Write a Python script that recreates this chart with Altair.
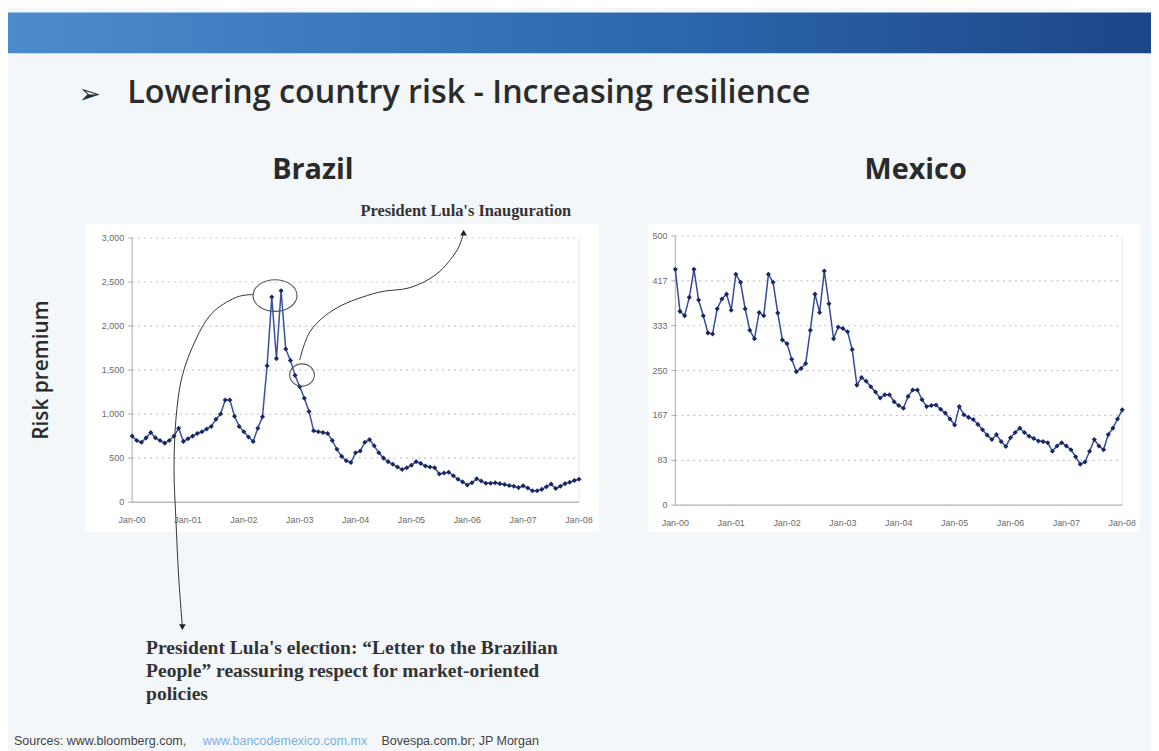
import altair as alt
import pandas as pd

# ---------------- data ----------------
month_labels = ["Jan-00", "Jan-01", "Jan-02", "Jan-03", "Jan-04",
                "Jan-05", "Jan-06", "Jan-07", "Jan-08"]
label_month_index = [0, 12, 24, 36, 48, 60, 72, 84, 96]

# monthly country-risk spreads (bp), Jan-2000 .. Jan-2008
brazil_spread = [
    750, 700, 680, 730, 790, 730, 700, 670, 700, 750, 840, 690,
    720, 750, 780, 800, 830, 860, 940, 1000, 1160, 1160, 975, 860,
    800, 740, 690, 840, 970, 1550, 2330, 1630, 2400, 1740, 1610, 1440,
    1310, 1180, 1030, 810, 800, 790, 780, 700, 600, 520, 470, 450,
    560, 580, 680, 710, 640, 560, 500, 460, 430, 400, 370, 390,
    420, 460, 440, 410, 400, 390, 320, 330, 340, 300, 260, 230,
    195, 220, 265, 240, 215, 215, 220, 210, 200, 190, 180, 165,
    185, 160, 130, 130, 145, 175, 205, 155, 180, 210, 225, 245, 260,
]
mexico_spread = [
    438, 360, 352, 386, 438, 381, 352, 320, 318, 365, 383, 392,
    362, 429, 414, 365, 325, 309, 358, 352, 429, 414, 357, 307,
    300, 271, 248, 254, 263, 325, 392, 358, 435, 374, 309, 331,
    328, 322, 289, 223, 237, 230, 220, 210, 199, 205, 205, 192,
    185, 180, 202, 214, 214, 196, 183, 185, 186, 178, 171, 160,
    149, 183, 168, 163, 159, 150, 140, 130, 122, 131, 118, 109,
    125, 135, 143, 135, 128, 124, 119, 118, 116, 100, 110, 116,
    110, 103, 90, 76, 80, 100, 122, 110, 103, 131, 143, 160, 177,
]
brazil_ticks = [0, 500, 1000, 1500, 2000, 2500, 3000]
mexico_tick_values = [0, 83.3, 166.7, 250, 333.3, 416.7, 500]
mexico_tick_labels = ["0", "83", "167", "250", "333", "417", "500"]

# annotation anchors in data units (month index, spread)
peak_ellipse = {"m": [30.7], "v": [2346]}
inaug_circle = {"m": [36.5], "v": [1444]}
inaug_curve_m = [36.0, 38.4, 44.1, 52.7, 59.7, 65.5, 69.7, 71.2]
inaug_curve_v = [1613, 1951, 2210, 2380, 2436, 2594, 2853, 3060]
elect_curve_m = [26.0, 22.2, 17.1, 13.6, 10.7, 9.4, 9.0, 9.4, 10.0, 10.8]
elect_curve_v = [2357, 2323, 2143, 1838, 1421, 936, 372, -192, -850, -1420]

# ---------------- layout ----------------
W, H = 1151, 743
BR_X, BR_Y = [125, 575], [495, 229]
MX_X, MX_Y = [672, 1122], [498, 227]

months = list(range(len(brazil_spread)))
br_df = pd.DataFrame({"m": months, "v": brazil_spread})
mx_df = pd.DataFrame({"m": months, "v": mexico_spread})

def one():
    return alt.Chart(pd.DataFrame({"a": [0]}))

def panel(df, xr, yr, ydom, tick_vals, tick_labels, line_color):
    xs = alt.Scale(domain=[0, 96], range=xr, nice=False, zero=False)
    ys = alt.Scale(domain=ydom, range=yr, nice=False, zero=False)
    X = lambda f="m": alt.X(f"{f}:Q", scale=xs, axis=None)
    Y = lambda f="v": alt.Y(f"{f}:Q", scale=ys, axis=None)
    tdf = pd.DataFrame({"v": tick_vals, "lab": tick_labels})
    grid = alt.Chart(tdf[tdf.v > 0]).mark_rule(
        color="#c4c4c4", strokeDash=[2, 4], strokeWidth=1.2
    ).encode(y=Y(), x=alt.value(xr[0]), x2=alt.value(xr[1]))
    ylab = alt.Chart(tdf).mark_text(
        align="right", baseline="middle", fontSize=9, color="#6a6a6a",
        font="Liberation Sans"
    ).encode(y=Y(), x=alt.value(xr[0] - 8), text="lab:N")
    yticks = alt.Chart(tdf).mark_rule(color="#aaa").encode(
        y=Y(), x=alt.value(xr[0] - 4), x2=alt.value(xr[0]))
    adf = pd.DataFrame({"a": [ydom[0]], "b": [ydom[1]]})
    yaxis = alt.Chart(adf).mark_rule(color="#aaa").encode(
        y=Y("a"), y2=alt.Y2("b"), x=alt.value(xr[0]))
    rborder = alt.Chart(adf).mark_rule(color="#e4e4e4").encode(
        y=Y("a"), y2=alt.Y2("b"), x=alt.value(xr[1]))
    xaxis = alt.Chart(pd.DataFrame({"v": [0]})).mark_rule(color="#999").encode(
        y=Y(), x=alt.value(xr[0]), x2=alt.value(xr[1]))
    xl = pd.DataFrame({"m": label_month_index, "lab": month_labels})
    xlab = alt.Chart(xl).mark_text(
        baseline="top", fontSize=9, color="#6a6a6a", font="Liberation Sans"
    ).encode(x=X(), y=alt.value(yr[0] + 14), text="lab:N")
    line = alt.Chart(df).mark_line(color=line_color, strokeWidth=1.5).encode(x=X(), y=Y())
    pts = alt.Chart(df).mark_point(
        shape="diamond", filled=True, size=26, color="#1a2862", opacity=1
    ).encode(x=X(), y=Y())
    return [grid, yaxis, rborder, xaxis, yticks, ylab, xlab, line, pts], X, Y

br_layers, BX, BY = panel(br_df, BR_X, BR_Y, [0, 3000], brazil_ticks,
                          [f"{t:,}" for t in brazil_ticks], "#3a50a4")
mx_layers, MXX, MXY = panel(mx_df, MX_X, MX_Y, [0, 500], mexico_tick_values,
                            mexico_tick_labels, "#34499c")

# annotations on Brazil panel
ellipse_path = "M-1,0 A1,0.72 0 1,0 1,0 A1,0.72 0 1,0 -1,0 Z"
circle_path = "M-1,0 A1,0.9 0 1,0 1,0 A1,0.9 0 1,0 -1,0 Z"
ell1 = alt.Chart(pd.DataFrame(peak_ellipse)).mark_point(
    shape=ellipse_path, size=1960, filled=False, color="#555", strokeWidth=1.1, opacity=1
).encode(x=BX(), y=BY())
ell2 = alt.Chart(pd.DataFrame(inaug_circle)).mark_point(
    shape=circle_path, size=620, filled=False, color="#555", strokeWidth=1.1, opacity=1
).encode(x=BX(), y=BY())
c1df = pd.DataFrame({"m": inaug_curve_m, "v": inaug_curve_v, "o": range(len(inaug_curve_m))})
c2df = pd.DataFrame({"m": elect_curve_m, "v": elect_curve_v, "o": range(len(elect_curve_m))})
curve1 = alt.Chart(c1df).mark_line(interpolate="cardinal", color="#333", strokeWidth=1).encode(
    x=BX(), y=BY(), order="o:Q")
curve2 = alt.Chart(c2df).mark_line(interpolate="cardinal", color="#333", strokeWidth=1).encode(
    x=BX(), y=BY(), order="o:Q")
arrow1 = alt.Chart(c1df.tail(1)).mark_point(
    shape="triangle-up", filled=True, size=45, color="#222", opacity=1).encode(x=BX(), y=BY())
arrow2 = alt.Chart(c2df.tail(1)).mark_point(
    shape="triangle-down", filled=True, size=45, color="#222", opacity=1).encode(x=BX(), y=BY())

brazil = alt.layer(*br_layers, ell1, ell2, curve1, curve2, arrow1, arrow2)
mexico = alt.layer(*mx_layers)

# ---------------- slide decoration & text ----------------
banner = one().mark_rect(
    color=alt.LinearGradient(
        gradient="linear",
        stops=[alt.GradientStop(color="#4c8bcb", offset=0),
               alt.GradientStop(color="#2f6db3", offset=0.5),
               alt.GradientStop(color="#1c4687", offset=1)],
        x1=0, x2=1, y1=0, y2=0)
).encode(x=alt.value(0), x2=alt.value(W), y=alt.value(2), y2=alt.value(43))

white_br = one().mark_rect(color="white").encode(
    x=alt.value(78), x2=alt.value(595), y=alt.value(215), y2=alt.value(525))
white_mx = one().mark_rect(color="white").encode(
    x=alt.value(645), x2=alt.value(1140), y=alt.value(215), y2=alt.value(525))

title = one().mark_text(
    text="Lowering country risk - Increasing resilience", align="left",
    baseline="alphabetic", fontSize=32.5, fontWeight=600, font="Open Sans", color="#2b2b2b"
).encode(x=alt.value(120), y=alt.value(93))
bullet = one().mark_text(
    text="\u27a2", align="left", baseline="alphabetic", fontSize=27,
    font="DejaVu Sans", color="#2b2b2b"
).encode(x=alt.value(71), y=alt.value(93))
t_brazil = one().mark_text(
    text="Brazil", align="center", baseline="alphabetic", fontSize=29,
    fontWeight="bold", font="Open Sans", color="#2a2a2a"
).encode(x=alt.value(307), y=alt.value(170))
t_mexico = one().mark_text(
    text="Mexico", align="center", baseline="alphabetic", fontSize=29,
    fontWeight="bold", font="Open Sans", color="#2a2a2a"
).encode(x=alt.value(914), y=alt.value(170))
t_risk = one().mark_text(
    text="Risk premium", align="center", baseline="middle", angle=270,
    fontSize=21, fontWeight=600, font="Open Sans", color="#2a2a2a"
).encode(x=alt.value(34), y=alt.value(362))
t_inaug = one().mark_text(
    text="President Lula's Inauguration", align="center", baseline="alphabetic",
    fontSize=16.5, fontWeight="bold", font="Liberation Serif", color="#333"
).encode(x=alt.value(461), y=alt.value(207))
t_elect = one().mark_text(
    text=["President Lula's election: \u201cLetter to the Brazilian",
          "People\u201d reassuring respect for market-oriented",
          "policies"],
    align="left", baseline="alphabetic", fontSize=19.7, lineHeight=23,
    fontWeight="bold", font="Liberation Serif", color="#333"
).encode(x=alt.value(139), y=alt.value(648))
src1 = one().mark_text(
    text="Sources: www.bloomberg.com,", align="left", baseline="alphabetic",
    fontSize=12.6, font="Liberation Sans", color="#444"
).encode(x=alt.value(6), y=alt.value(740))
src2 = one().mark_text(
    text="www.bancodemexico.com.mx", align="left", baseline="alphabetic",
    fontSize=12.6, font="Liberation Sans", color="#7fb0e0"
).encode(x=alt.value(196), y=alt.value(740))
src3 = one().mark_text(
    text="Bovespa.com.br; JP Morgan", align="left", baseline="alphabetic",
    fontSize=12.6, font="Liberation Sans", color="#444"
).encode(x=alt.value(376), y=alt.value(740))

chart = alt.layer(
    banner, white_br, white_mx, title, bullet, t_brazil, t_mexico, t_risk,
    brazil, mexico, t_inaug, t_elect, src1, src2, src3
).resolve_scale(x="independent", y="independent").properties(
    width=W, height=H, padding=0,
    autosize=alt.AutoSizeParams(type="none"),
    background="#f3f7fa",
).configure_view(stroke=None)

chart.save("out.html", embed_options={"renderer": "svg", "actions": False})
